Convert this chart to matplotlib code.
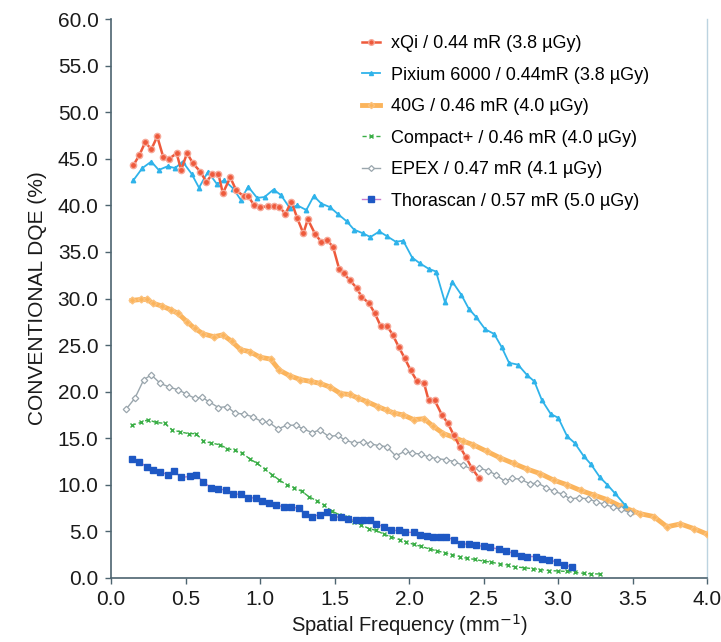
import matplotlib
matplotlib.use("Agg")
import matplotlib.pyplot as plt
import numpy as np

plt.rcParams['font.family'] = ['Liberation Sans', 'DejaVu Sans']

# xQi / 0.44 mR
xqi_f = [0.15, 0.19, 0.23, 0.27, 0.31, 0.35, 0.39, 0.44, 0.47, 0.51, 0.55, 0.60, 0.64, 0.68,
         0.72, 0.75, 0.80, 0.84, 0.89, 0.92, 0.96, 1.00, 1.05, 1.09, 1.13, 1.17, 1.21, 1.25,
         1.29, 1.32, 1.37, 1.41, 1.45, 1.49, 1.53, 1.56, 1.60, 1.65, 1.68, 1.73, 1.77, 1.81,
         1.85, 1.89, 1.93, 1.97, 2.01, 2.05, 2.10, 2.13, 2.17, 2.22, 2.26, 2.30, 2.34, 2.38,
         2.42, 2.47]
xqi_dqe = [44.3, 45.4, 46.8, 46.0, 47.4, 45.2, 45.0, 45.6, 43.8, 45.6, 44.5, 43.6, 42.5, 43.4,
           43.4, 41.3, 43.0, 41.6, 41.0, 41.0, 40.0, 39.8, 39.9, 39.9, 39.8, 39.1, 40.4, 38.6,
           37.0, 38.5, 36.9, 36.1, 36.3, 35.5, 33.2, 32.7, 32.0, 31.1, 30.2, 29.5, 28.4, 27.0,
           27.1, 26.1, 24.8, 23.6, 22.3, 21.2, 20.9, 19.1, 19.1, 17.5, 16.6, 15.3, 14.1, 13.0,
           11.8, 10.7]

# Pixium 6000
pix_f = [0.15, 0.21, 0.27, 0.32, 0.38, 0.43, 0.48, 0.54, 0.59, 0.65, 0.71, 0.76, 0.82, 0.87,
         0.92, 0.98, 1.03, 1.09, 1.14, 1.20, 1.25, 1.31, 1.36, 1.41, 1.47, 1.52, 1.58, 1.63,
         1.69, 1.74, 1.80, 1.85, 1.91, 1.96, 2.02, 2.07, 2.13, 2.18, 2.24, 2.29, 2.35, 2.40,
         2.45, 2.51, 2.57, 2.62, 2.67, 2.73, 2.79, 2.84, 2.89, 2.95, 3.00, 3.06, 3.11, 3.17,
         3.22, 3.28, 3.33, 3.38, 3.45]
pix_dqe = [42.7, 44.0, 44.7, 43.8, 44.2, 44.0, 44.7, 43.4, 41.9, 43.6, 42.3, 42.7, 41.8, 40.6,
           42.0, 40.8, 40.9, 41.7, 41.1, 39.7, 40.0, 39.5, 41.0, 40.2, 39.8, 39.1, 38.3, 37.4,
           37.0, 36.6, 37.2, 36.7, 36.1, 36.2, 34.4, 33.8, 33.2, 32.9, 29.6, 31.8, 30.4, 28.9,
           28.0, 26.7, 26.2, 24.8, 23.1, 22.9, 21.8, 21.1, 19.1, 17.6, 17.2, 15.2, 14.5, 13.1,
           12.2, 10.8, 10.0, 9.1, 7.8]

# 40G
g40_f = [0.14, 0.20, 0.24, 0.28, 0.34, 0.40, 0.45, 0.51, 0.56, 0.62, 0.69, 0.75, 0.81, 0.87,
         0.93, 1.00, 1.07, 1.13, 1.20, 1.27, 1.34, 1.40, 1.47, 1.54, 1.60, 1.66, 1.72, 1.79,
         1.85, 1.90, 1.96, 2.03, 2.10, 2.16, 2.23, 2.30, 2.36, 2.43, 2.52, 2.61, 2.70, 2.79,
         2.88, 2.97, 3.06, 3.15, 3.24, 3.33, 3.42, 3.50, 3.55, 3.64, 3.73, 3.82, 3.91, 4.00]
g40_dqe = [29.8, 29.9, 29.9, 29.5, 29.2, 28.8, 28.4, 27.5, 26.8, 26.2, 25.9, 26.1, 25.4, 24.5,
           24.3, 23.7, 23.5, 22.3, 21.7, 21.3, 21.1, 20.9, 20.5, 19.8, 19.7, 19.3, 18.9, 18.4,
           18.0, 17.7, 17.5, 17.0, 17.1, 16.3, 15.5, 15.1, 14.7, 14.3, 13.6, 12.9, 12.3, 11.7,
           11.2, 10.5, 10.0, 9.4, 8.9, 8.4, 7.7, 7.2, 6.9, 6.6, 5.5, 5.8, 5.3, 4.7]

# Compact+
cp_f = [0.14, 0.20, 0.25, 0.30, 0.36, 0.41, 0.46, 0.52, 0.57, 0.62, 0.67, 0.73, 0.78, 0.83,
        0.88, 0.93, 0.98, 1.03, 1.08, 1.13, 1.18, 1.23, 1.28, 1.33, 1.38, 1.43, 1.48, 1.53,
        1.58, 1.63, 1.68, 1.73, 1.78, 1.83, 1.88, 1.94, 1.98, 2.03, 2.08, 2.14, 2.19, 2.24,
        2.29, 2.34, 2.39, 2.44, 2.50, 2.55, 2.61, 2.66, 2.71, 2.77, 2.83, 2.88, 2.94, 3.00,
        3.06, 3.11, 3.17, 3.22, 3.28]
cp_dqe = [16.4, 16.7, 17.0, 16.7, 16.6, 15.9, 15.7, 15.5, 15.5, 14.7, 14.5, 14.3, 13.9, 13.7,
          13.4, 12.8, 12.3, 11.7, 11.1, 10.5, 10.0, 9.7, 9.3, 8.7, 8.3, 7.8, 7.2, 6.8,
          6.5, 6.0, 5.7, 5.3, 5.1, 4.7, 4.4, 4.1, 3.9, 3.6, 3.4, 3.1, 2.9, 2.7,
          2.5, 2.3, 2.1, 2.0, 1.8, 1.7, 1.5, 1.4, 1.2, 1.1, 1.0, 0.9, 0.8, 0.75,
          0.7, 0.6, 0.5, 0.45, 0.43]

# EPEX
ep_f = [0.10, 0.16, 0.22, 0.27, 0.33, 0.39, 0.45, 0.50, 0.56, 0.61, 0.66, 0.72, 0.78, 0.83,
        0.89, 0.95, 1.01, 1.06, 1.12, 1.18, 1.24, 1.29, 1.35, 1.40, 1.46, 1.52, 1.57, 1.63,
        1.69, 1.74, 1.80, 1.85, 1.91, 1.97, 2.02, 2.08, 2.13, 2.19, 2.25, 2.30, 2.36, 2.42,
        2.47, 2.53, 2.58, 2.64, 2.69, 2.75, 2.81, 2.86, 2.92, 2.97, 3.03, 3.08, 3.14, 3.20,
        3.25, 3.31, 3.37, 3.42, 3.48]
ep_dqe = [18.1, 19.3, 21.3, 21.8, 20.9, 20.5, 20.2, 19.8, 19.3, 19.4, 18.9, 18.3, 18.4, 17.7,
          17.6, 17.3, 16.8, 16.7, 16.0, 16.4, 16.4, 16.0, 15.6, 15.9, 15.2, 15.3, 14.8, 14.5,
          14.6, 14.4, 14.2, 14.1, 13.1, 13.6, 13.4, 13.3, 13.0, 12.8, 12.7, 12.5, 12.1, 11.7,
          11.8, 11.5, 11.1, 10.4, 10.7, 10.6, 10.1, 10.2, 9.7, 9.3, 9.0, 8.5, 8.6, 8.5,
          8.2, 7.9, 7.6, 7.4, 7.0]

# Thorascan
th_f = [0.14, 0.19, 0.24, 0.28, 0.33, 0.38, 0.42, 0.47, 0.53, 0.57, 0.62, 0.67, 0.72, 0.77,
        0.82, 0.87, 0.92, 0.97, 1.01, 1.06, 1.11, 1.16, 1.21, 1.26, 1.30, 1.35, 1.40, 1.45,
        1.49, 1.54, 1.59, 1.64, 1.69, 1.74, 1.78, 1.83, 1.88, 1.93, 1.97, 2.03, 2.07, 2.12,
        2.16, 2.21, 2.25, 2.30, 2.35, 2.40, 2.45, 2.50, 2.54, 2.60, 2.65, 2.70, 2.75, 2.79,
        2.85, 2.89, 2.94, 2.99, 3.04, 3.09]
th_dqe = [12.8, 12.5, 11.9, 11.6, 11.4, 11.1, 11.5, 10.8, 10.9, 11.1, 10.3, 9.7, 9.6, 9.4,
          9.0, 9.0, 8.6, 8.6, 8.3, 8.0, 7.8, 7.65, 7.6, 7.5, 6.9, 6.6, 6.8, 7.1,
          6.6, 6.5, 6.3, 6.2, 6.2, 6.2, 5.8, 5.5, 5.1, 5.1, 4.9, 4.9, 4.6, 4.5,
          4.4, 4.4, 4.4, 4.1, 3.7, 3.6, 3.5, 3.4, 3.3, 3.1, 2.9, 2.65, 2.4, 2.3,
          2.3, 2.0, 1.9, 1.75, 1.4, 1.2]

labels = ["xQi / 0.44 mR (3.8 µGy)",
          "Pixium 6000 / 0.44mR (3.8 µGy)",
          "40G / 0.46 mR (4.0 µGy)",
          "Compact+ / 0.46 mR (4.0 µGy)",
          "EPEX / 0.47 mR (4.1 µGy)",
          "Thorascan / 0.57 mR (5.0 µGy)"]

fig = plt.figure(figsize=(7.21, 6.42), dpi=100)
ax = fig.add_axes([0.154, 0.0997, 0.827, 0.8706])

ax.plot(xqi_f, xqi_dqe, color='#ee5a3c', lw=1.8, marker='o', ms=4.5,
        mfc='#ee5a3c', mec='#f6a898', mew=1.0, label=labels[0], zorder=5)
ax.plot(pix_f, pix_dqe, color='#2fb3ea', lw=1.3, marker='^', ms=3.2,
        mec='#2fb3ea', label=labels[1], zorder=4)
ax.plot(g40_f, g40_dqe, color='#fbb45c', lw=3.5, marker='D', ms=3.5,
        mec='#fbc27e', label=labels[2], zorder=3)
ax.plot(cp_f, cp_dqe, color='#3aae46', lw=1.0, ls=(0, (3, 2)), marker='x', ms=2.5,
        mew=1.0, label=labels[3], zorder=3)
ax.plot(ep_f, ep_dqe, color='#9aa6ad', lw=1.0, marker='D', ms=3.3,
        mfc='white', mec='#9aa6ad', mew=0.9, label=labels[4], zorder=3)
ax.plot(th_f, th_dqe, color='#c77bd0', lw=1.0, marker='s', ms=4.2,
        mfc='#1e58c4', mec='#1e58c4', label=labels[5], zorder=4)

ax.set_xlim(0, 4.0)
ax.set_ylim(0, 60)
ax.set_xticks(np.arange(0, 4.01, 0.5))
ax.set_yticks(np.arange(0, 60.1, 5))
ax.set_xticklabels([f"{v:.1f}" for v in np.arange(0, 4.01, 0.5)])
ax.set_yticklabels([f"{v:.1f}" for v in np.arange(0, 60.1, 5)])
ax.tick_params(direction='out', length=4, width=1, color='#4d6470',
               labelsize=15, labelcolor='#1a1a1a', pad=5)

for s in ['left', 'bottom']:
    ax.spines[s].set_color('#4d6470')
    ax.spines[s].set_linewidth(1.2)
ax.spines['top'].set_visible(False)
ax.spines['right'].set_color('#bcd3e0')
ax.spines['right'].set_linewidth(1.0)

ax.set_xlabel("Spatial Frequency (mm$^{-1}$)", fontsize=14.5, color='#1a1a1a', labelpad=2)
ax.set_ylabel("CONVENTIONAL DQE (%)", fontsize=15, color='#1a1a1a', labelpad=8)

ax.legend(loc='upper left', bbox_to_anchor=(0.502, 0.945), bbox_transform=fig.transFigure,
          frameon=False, fontsize=13, handlelength=1.0, handletextpad=0.6,
          labelspacing=0.8, borderpad=0, borderaxespad=0, markerscale=0.9)

fig.savefig("out.png", dpi=100)
